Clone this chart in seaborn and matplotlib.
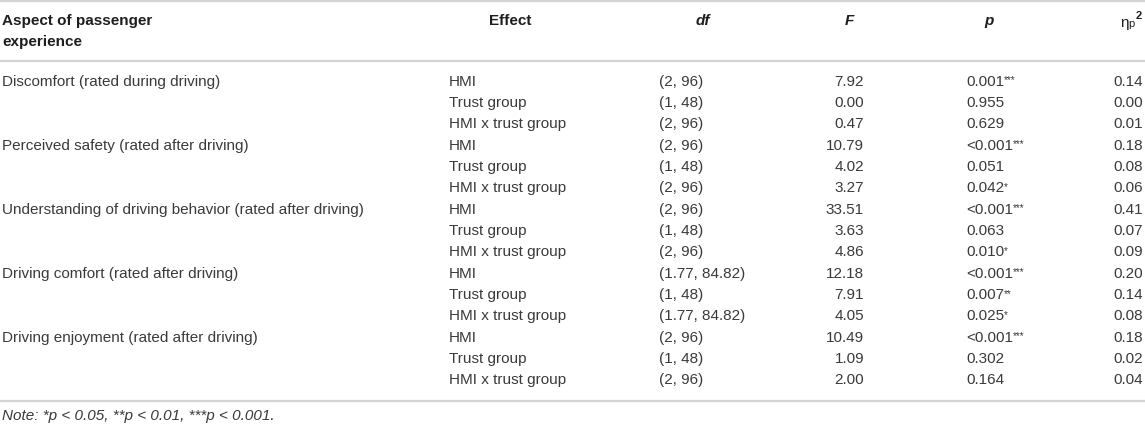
import matplotlib
matplotlib.use('Agg')
import matplotlib.pyplot as plt
import seaborn as sns

# table content
aspects = [
    'Discomfort (rated during driving)',
    'Perceived safety (rated after driving)',
    'Understanding of driving behavior (rated after driving)',
    'Driving comfort (rated after driving)',
    'Driving enjoyment (rated after driving)',
]
effects = ['HMI', 'Trust group', 'HMI x trust group']
df_values = [
    '(2, 96)', '(1, 48)', '(2, 96)',
    '(2, 96)', '(1, 48)', '(2, 96)',
    '(2, 96)', '(1, 48)', '(2, 96)',
    '(1.77, 84.82)', '(1, 48)', '(1.77, 84.82)',
    '(2, 96)', '(1, 48)', '(2, 96)',
]
f_values = [7.92, 0.00, 0.47, 10.79, 4.02, 3.27, 33.51, 3.63, 4.86,
            12.18, 7.91, 4.05, 10.49, 1.09, 2.00]
p_values = ['0.001', '0.955', '0.629', '<0.001', '0.051', '0.042',
            '<0.001', '0.063', '0.010', '<0.001', '0.007', '0.025',
            '<0.001', '0.302', '0.164']
p_stars = ['***', '', '', '***', '', '*', '***', '', '*',
           '***', '**', '*', '***', '', '']
eta_values = [0.14, 0.00, 0.01, 0.18, 0.08, 0.06, 0.41, 0.07, 0.09,
              0.20, 0.14, 0.08, 0.18, 0.02, 0.04]
note = 'Note: *p < 0.05, **p < 0.01, ***p < 0.001.'

sns.set_theme(style='white')
plt.rcParams['font.family'] = ['Liberation Sans', 'DejaVu Sans']

W, H = 1145, 425
fig = plt.figure(figsize=(W / 100, H / 100), dpi=100)
ax = fig.add_axes([0, 0, 1, 1])
ax.set_xlim(0, W)
ax.set_ylim(H, 0)
ax.axis('off')

fs = 11
body = '#3a3a3a'
head = '#1e1e1e'
rule = '#d4d4d4'

# column anchors (pixels)
x_aspect, x_effect, x_df, x_f, x_p, x_eta = 2, 449, 659, 864, 966, 1143
row0, row_h = 81.7, 21.33

# rules
for y in (1, 61, 401):
    ax.axhline(y, color=rule, lw=1.6)

# header
hy = 21
ax.text(x_aspect, hy, 'Aspect of passenger', fontsize=fs, fontweight='bold',
        color=head, va='center', ha='left')
ax.text(x_aspect, 42, 'experience', fontsize=fs, fontweight='bold',
        color=head, va='center', ha='left')
ax.text(510, hy, 'Effect', fontsize=fs, fontweight='bold', color=head,
        va='center', ha='center')
ax.text(703, hy, 'df', fontsize=fs, fontweight='bold', style='italic',
        color=head, va='center', ha='center')
ax.text(849, hy, 'F', fontsize=fs, fontweight='bold', style='italic',
        color=head, va='center', ha='center')
ax.text(989, hy, 'p', fontsize=fs, fontweight='bold', style='italic',
        color=head, va='center', ha='center')
eta = ax.text(1120, hy + 2, 'η', fontsize=fs, color=head,
              va='center', ha='left')
ax.annotate('p', xy=(1.0, 0.0), xycoords=eta, fontsize=8, color=head,
            va='bottom', ha='left', xytext=(0, 1), textcoords='offset points')
ax.annotate('2', xy=(1.0, 1.0), xycoords=eta, fontsize=8, fontweight='bold',
            color=head, va='center', ha='left', xytext=(5, 0),
            textcoords='offset points')

# body rows
for i in range(len(f_values)):
    y = row0 + i * row_h
    if i % len(effects) == 0:
        ax.text(x_aspect, y, aspects[i // len(effects)], fontsize=fs,
                color=body, va='center', ha='left')
    ax.text(x_effect, y, effects[i % len(effects)], fontsize=fs,
            color=body, va='center', ha='left')
    ax.text(x_df, y, df_values[i], fontsize=fs, color=body,
            va='center', ha='left')
    ax.text(x_f, y, f'{f_values[i]:.2f}', fontsize=fs, color=body,
            va='center', ha='right')
    t = ax.text(x_p, y, p_values[i], fontsize=fs, color=body,
                va='center', ha='left')
    if p_stars[i]:
        ax.annotate(p_stars[i], xy=(1.0, 0.95), xycoords=t, fontsize=7,
                    color=body, va='top', ha='left')
    ax.text(x_eta, y, f'{eta_values[i]:.2f}', fontsize=fs, color=body,
            va='center', ha='right')

ax.text(x_aspect, 416, note, fontsize=fs, style='italic', color=body,
        va='center', ha='left')

fig.savefig('out.png', dpi=100)
